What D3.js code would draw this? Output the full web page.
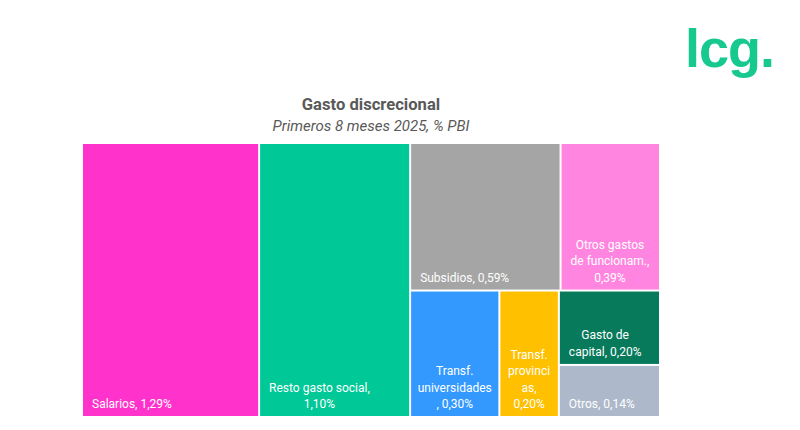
<!DOCTYPE html>
<html>
<head>
<meta charset="utf-8">
<script src="https://cdn.jsdelivr.net/npm/d3@7"></script>
<style>
  html, body { margin: 0; padding: 0; background: #ffffff; }
  svg { display: block; }
</style>
</head>
<body>
<svg id="chart" width="800" height="430"></svg>
<script>
// ---- Data ----
const categories = ["Salarios", "Resto gasto social", "Subsidios", "Otros gastos de funcionam.",
  "Transf. universidades", "Transf. provincias", "Gasto de capital", "Otros"];
const values = [1.29, 1.10, 0.59, 0.39, 0.30, 0.20, 0.20, 0.14];
const labelLines = [
  ["Salarios, 1,29%"],
  ["Resto gasto social,", "1,10%"],
  ["Subsidios, 0,59%"],
  ["Otros gastos", "de funcionam.,", "0,39%"],
  ["Transf.", "universidades", ", 0,30%"],
  ["Transf.", "provinci", "as,", "0,20%"],
  ["Gasto de", "capital, 0,20%"],
  ["Otros, 0,14%"]
];
const colors = ["#FF33CC", "#00C896", "#A5A5A5", "#FF85E0", "#3399FF", "#FFC000", "#087A5C", "#ADB9CA"];
const title = "Gasto discrecional";
const subtitle = "Primeros 8 meses 2025, % PBI";

// ---- Layout ----
const svg = d3.select("#chart");
const area = { x: 83, y: 144, w: 576, h: 272 };

// squarified tiling (Excel-like aspect target)
function excelTile(ratio) {
  return function (parent, x0, y0, x1, y1) {
    const nodes = parent.children, n = nodes.length;
    let value = parent.value, i0 = 0, i1 = 0;
    while (i0 < n) {
      const dx = x1 - x0, dy = y1 - y0;
      let sum = nodes[i1++].value, minV = sum, maxV = sum;
      const alpha = Math.max(dy / dx, dx / dy) / (value * ratio);
      let beta = sum * sum * alpha;
      let minRatio = Math.max(maxV / beta, beta / minV);
      for (; i1 < n; ++i1) {
        const v = nodes[i1].value;
        sum += v;
        if (v < minV) minV = v;
        if (v > maxV) maxV = v;
        beta = sum * sum * alpha;
        const nr = Math.max(maxV / beta, beta / minV);
        if (nr > minRatio) { sum -= v; break; }
        minRatio = nr;
      }
      const row = { value: sum, children: nodes.slice(i0, i1) };
      if (dx < dy) {
        const ny = i1 < n ? y0 + dy * sum / value : y1;
        d3.treemapDice(row, x0, y0, x1, ny);
        y0 = ny;
      } else {
        const nx = i1 < n ? x0 + dx * sum / value : x1;
        d3.treemapSlice(row, x0, y0, nx, y1);
        x0 = nx;
      }
      value -= sum;
      i0 = i1;
    }
  };
}

const rootData = {
  name: "root",
  children: categories.map((c, i) => ({ name: c, value: values[i], idx: i }))
};
const root = d3.hierarchy(rootData).sum(d => d.value || 0);
d3.treemap()
  .tile(excelTile(0.8))
  .size([area.w, area.h])
  .paddingInner(2)
  .round(false)(root);

const g = svg.append("g").attr("transform", `translate(${area.x},${area.y})`);
const cells = g.selectAll("g.cell")
  .data(root.leaves())
  .join("g")
  .attr("class", "cell");

cells.append("rect")
  .attr("x", d => d.x0)
  .attr("y", d => d.y0)
  .attr("width", d => d.x1 - d.x0)
  .attr("height", d => d.y1 - d.y0)
  .attr("fill", d => colors[d.data.idx]);

const lineH = 16.5;
cells.each(function (d) {
  const cell = d3.select(this);
  const lines = labelLines[d.data.idx];
  const text = cell.append("text")
    .attr("font-family", "Roboto, 'Liberation Sans', sans-serif")
    .attr("font-size", 12)
    .attr("fill", "#ffffff")
    .attr("text-anchor", "middle");
  const tspans = lines.map((l, k) => text.append("tspan").text(l));
  const bw = d3.max(tspans, t => t.node().getComputedTextLength());
  const w = d.x1 - d.x0;
  const left = d.x0 + Math.min(9, Math.max(2, (w - bw) / 2));
  const cx = left + bw / 2;
  const lastBase = d.y1 - 8;
  tspans.forEach((t, k) => {
    t.attr("x", cx).attr("y", lastBase - (lines.length - 1 - k) * lineH);
  });
});

// ---- Titles ----
const cx = area.x + area.w / 2;
svg.append("text")
  .attr("x", cx).attr("y", 110)
  .attr("text-anchor", "middle")
  .attr("font-family", "Roboto, 'Liberation Sans', sans-serif")
  .attr("font-weight", "bold")
  .attr("font-size", 16.6)
  .attr("fill", "#595959")
  .text(title);
svg.append("text")
  .attr("x", cx).attr("y", 131)
  .attr("text-anchor", "middle")
  .attr("font-family", "Roboto, 'Liberation Sans', sans-serif")
  .attr("font-style", "italic")
  .attr("font-size", 15)
  .attr("fill", "#595959")
  .text(subtitle);

// ---- Logo ----
svg.append("text")
  .attr("x", 685).attr("y", 67)
  .attr("font-family", "'Liberation Sans', Arial, sans-serif")
  .attr("font-weight", "bold")
  .attr("font-size", 54)
  .attr("letter-spacing", -1)
  .attr("fill", "#17C98F")
  .text("lcg.");
</script>
</body>
</html>
